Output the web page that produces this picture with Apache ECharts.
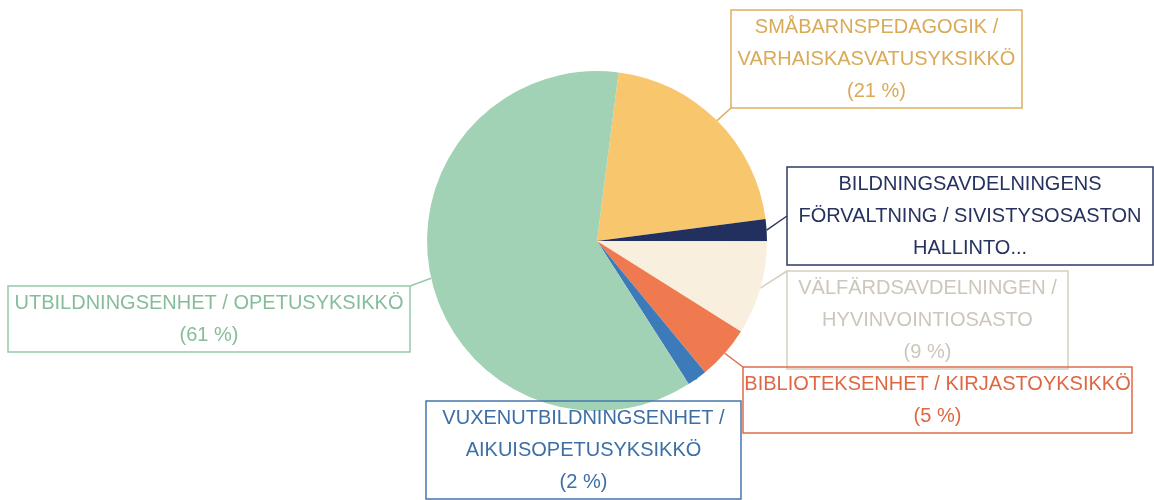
<!DOCTYPE html>
<html>
<head>
<meta charset="utf-8">
<script src="https://cdn.jsdelivr.net/npm/echarts@6/dist/echarts.min.js"></script>
<style>
html, body { margin: 0; padding: 0; background: #fff; }
#chartContainer { width: 1154px; height: 500px; }
</style>
</head>
<body>
<div id="chartContainer"></div>
<script>
// data
var categories = [
	'SMÅBARNSPEDAGOGIK / VARHAISKASVATUSYKSIKKÖ',
	'BILDNINGSAVDELNINGENS FÖRVALTNING / SIVISTYSOSASTON HALLINTO',
	'VÄLFÄRDSAVDELNINGEN / HYVINVOINTIOSASTO',
	'BIBLIOTEKSENHET / KIRJASTOYKSIKKÖ',
	'VUXENUTBILDNINGSENHET / AIKUISOPETUSYKSIKKÖ',
	'UTBILDNINGSENHET / OPETUSYKSIKKÖ'
];
var seriesValues = [20.9, 2.1, 8.9, 5.1, 1.9, 61.1];
var labelTexts = [
	'SMÅBARNSPEDAGOGIK /\nVARHAISKASVATUSYKSIKKÖ',
	'BILDNINGSAVDELNINGENS\nFÖRVALTNING / SIVISTYSOSASTON\nHALLINTO...',
	'VÄLFÄRDSAVDELNINGEN /\nHYVINVOINTIOSASTO',
	'BIBLIOTEKSENHET / KIRJASTOYKSIKKÖ',
	'VUXENUTBILDNINGSENHET /\nAIKUISOPETUSYKSIKKÖ',
	'UTBILDNINGSENHET / OPETUSYKSIKKÖ'
];
var showPercent = [true, false, true, true, true, true];

// styles / layout
var sliceColors = ['#f8c66c', '#22305f', '#f8efde', '#f07a50', '#3c7ab9', '#a2d2b5'];
var textColors = ['#d9aa58', '#26325f', '#cdc7bb', '#de6743', '#3c6fa6', '#86bd99'];
var borderColors = ['#deaf5f', '#2e3a66', '#d6cfc1', '#df6c47', '#4477ad', '#98c9aa'];
var labelBoxes = [
	{ left: 731, top: 10, width: 291, anchor: 'bl' },
	{ left: 787, top: 167, width: 366, anchor: 'lm' },
	{ left: 787, top: 271, width: 281, anchor: 'tl' },
	{ left: 743, top: 367, width: 389, anchor: 'tl' },
	{ left: 426, top: 401, width: 315, anchor: 'tm' },
	{ left: 8, top: 286, width: 402, anchor: 'tr' }
];
var lineH = 32;

var option = null;

function boxHeight(i) {
	var n = labelTexts[i].split('\n').length + (showPercent[i] ? 1 : 0);
	return n * lineH + 2;
}

function anchorPoint(i) {
	var b = labelBoxes[i];
	var h = boxHeight(i);
	switch (b.anchor) {
		case 'bl': return [b.left, b.top + h];
		case 'lm': return [b.left, b.top + h / 2];
		case 'tl': return [b.left, b.top];
		case 'tm': return [b.left + b.width / 2, b.top];
		case 'tr': return [b.left + b.width, b.top];
	}
	return [b.left, b.top];
}

function initOption() {
	var data = [];
	$each(categories, function(name, i) {
		data.push({
			name: name,
			value: seriesValues[i],
			itemStyle: { color: sliceColors[i] },
			label: {
				color: textColors[i],
				borderColor: borderColors[i],
				width: labelBoxes[i].width,
				overflow: 'truncate',
				ellipsis: ''
			},
			labelLine: { lineStyle: { color: borderColors[i] } }
		});
	});

	option = {
		animation: false,
		series: [{
			type: 'pie',
			center: [597, 241],
			radius: 170,
			startAngle: 82.7,
			percentPrecision: 0,
			avoidLabelOverlap: false,
			data: data,
			label: {
				show: true,
				position: 'outside',
				fontFamily: 'Liberation Sans',
				fontSize: 20,
				lineHeight: lineH,
				align: 'center',
				borderWidth: 1.5,
				padding: [1, 0],
				formatter: function(p) {
					var s = labelTexts[p.dataIndex];
					if (showPercent[p.dataIndex]) {
						s += '\n(' + p.percent + ' %)';
					}
					return s;
				}
			},
			labelLine: {
				show: true,
				length: 10,
				length2: 0,
				smooth: false,
				lineStyle: { width: 1.5 }
			},
			labelLayout: function(params) {
				var i = params.dataIndex;
				var b = labelBoxes[i];
				var res = {
					x: b.left + b.width / 2,
					y: b.top,
					align: 'center',
					verticalAlign: 'top'
				};
				if (params.labelLinePoints) {
					res.labelLinePoints = [params.labelLinePoints[0], anchorPoint(i)];
				}
				return res;
			}
		}]
	};
}

function $each(arr, fn) {
	for (var i = 0; i < arr.length; i++) fn(arr[i], i);
}

initOption();
var chartContainer = echarts.init(document.getElementById('chartContainer'));
chartContainer.setOption(option);
</script>
</body>
</html>
